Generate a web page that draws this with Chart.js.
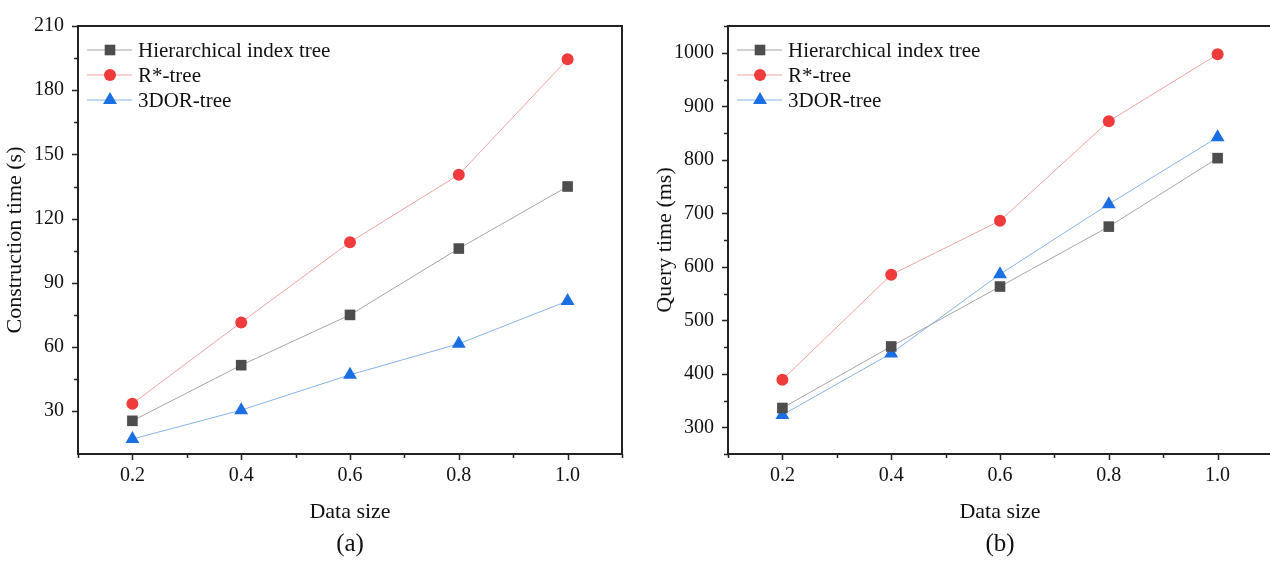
<!DOCTYPE html>
<html>
<head>
<meta charset="utf-8">
<script src="https://cdn.jsdelivr.net/npm/chart.js@4.4.1/dist/chart.umd.min.js"></script>
<style>
  html, body { margin: 0; padding: 0; background: #fff; overflow: hidden; }
  #wrap { position: relative; width: 1270px; height: 561px; }
  canvas { position: absolute; top: 0; }
  .cap { position: absolute; font-family: 'Liberation Serif', 'Times New Roman', serif; font-size: 25px; color: #111; transform: translate(-50%, -50%); }
</style>
</head>
<body>
<div id="wrap">
  <canvas id="chartA" width="640" height="561" style="left:0"></canvas>
  <canvas id="chartB" width="640" height="561" style="left:650px"></canvas>
  <div class="cap" style="left:350px; top:543px">(a)</div>
  <div class="cap" style="left:1000px; top:543px">(b)</div>
</div>
<script>
// ---- data ----
const dataSizes = [0.2, 0.4, 0.6, 0.8, 1.0];
const seriesNames = ['Hierarchical index tree', 'R*-tree', '3DOR-tree'];

// (a) construction time in seconds
const buildHier = [25.5, 51.5, 75, 106, 135];
const buildRstar = [33.5, 71.5, 109, 140.5, 194.5];
const build3dor = [17, 30.5, 47, 61.5, 81.5];

// (b) query time in ms
const queryHier = [336, 451, 563, 675, 803];
const queryRstar = [389, 585, 686, 872, 997];
const query3dor = [323, 438, 586, 717, 842];

const FONT = "'Liberation Serif', 'Times New Roman', serif";
Chart.defaults.font.family = FONT;
Chart.defaults.color = '#111';

// marker / line look for each series
const looks = [
    { style: 'rect', radius: 7.5, fill: '#4d4d4d', line: '#a6a6a6' },
    { style: 'circle', radius: 6, fill: '#ef3b3b', line: '#f2a3a3' },
    { style: 'triangle', radius: 8, fill: '#1a6fe3', line: '#86b4ea' }
];

function toPoints(vals) {
    return vals.map((v, i) => ({ x: dataSizes[i], y: v }));
}

function drawMarker(ctx, look, x, y) {
    ctx.fillStyle = look.fill;
    ctx.beginPath();
    if (look.style === 'rect') {
        const s = look.radius * Math.SQRT1_2;
        ctx.rect(x - s, y - s, 2 * s, 2 * s);
    } else if (look.style === 'circle') {
        ctx.arc(x, y, look.radius, 0, Math.PI * 2);
    } else {
        const r = look.radius;
        ctx.moveTo(x, y - r);
        ctx.lineTo(x + r * Math.sin(2 * Math.PI / 3), y + r / 2);
        ctx.lineTo(x - r * Math.sin(2 * Math.PI / 3), y + r / 2);
        ctx.closePath();
    }
    ctx.fill();
}

// frame + outward ticks (short minor, longer major)
const frameTicks = {
    id: 'frameTicks',
    afterDraw(chart) {
        const { ctx, chartArea: a, scales: { x, y } } = chart;
        const yStep = chart.options.scales.y.ticks.stepSize;
        ctx.save();
        ctx.strokeStyle = '#222';
        ctx.lineWidth = 1.5;
        ctx.beginPath();
        x.ticks.forEach(t => {
            const px = Math.round(x.getPixelForValue(t.value)) + 0.5;
            const len = t.label !== '' ? 6 : 4;
            ctx.moveTo(px, a.bottom);
            ctx.lineTo(px, a.bottom + len);
        });
        y.ticks.forEach(t => {
            if (Math.abs(t.value / yStep - Math.round(t.value / yStep)) > 1e-6) return;
            const py = Math.round(y.getPixelForValue(t.value)) + 0.5;
            const len = t.label !== '' ? 6 : 4;
            ctx.moveTo(a.left, py);
            ctx.lineTo(a.left - len, py);
        });
        ctx.stroke();
        ctx.lineWidth = 2;
        ctx.strokeRect(a.left, a.top, a.right - a.left, a.bottom - a.top);
        ctx.restore();
    }
};

// legend stacked in the upper left corner of the plot
const cornerLegend = {
    id: 'cornerLegend',
    afterDraw(chart) {
        const { ctx, chartArea: a } = chart;
        ctx.save();
        ctx.font = '21px ' + FONT;
        ctx.textBaseline = 'middle';
        chart.data.datasets.forEach((ds, i) => {
            const yy = a.top + 24 + i * 25;
            const look = looks[i];
            ctx.strokeStyle = look.line;
            ctx.lineWidth = 1.2;
            ctx.beginPath();
            ctx.moveTo(a.left + 9, yy);
            ctx.lineTo(a.left + 54, yy);
            ctx.stroke();
            drawMarker(ctx, look, a.left + 32, yy);
            ctx.fillStyle = '#111';
            ctx.fillText(ds.label, a.left + 60, yy + 1);
        });
        ctx.restore();
    }
};

function makeChart(id, series, yTitle, yMin, yMax, yStep, yLabelStep) {
    const datasets = series.map((vals, i) => ({
        label: seriesNames[i],
        data: toPoints(vals),
        borderColor: looks[i].line,
        borderWidth: 1,
        pointStyle: looks[i].style,
        pointRadius: looks[i].radius,
        pointHoverRadius: looks[i].radius,
        pointBackgroundColor: looks[i].fill,
        pointBorderColor: looks[i].fill,
        pointBorderWidth: 0,
        tension: 0
    }));

    return new Chart(document.getElementById(id), {
        type: 'line',
        data: { datasets },
        plugins: [frameTicks, cornerLegend],
        options: {
            responsive: false,
            animation: false,
            layout: { padding: { top: 18, right: 18, left: 0, bottom: 0 } },
            plugins: { legend: { display: false }, tooltip: { enabled: false } },
            scales: {
                x: {
                    type: 'linear',
                    min: 0.1, max: 1.1,
                    grid: { display: false, drawTicks: false },
                    border: { display: false },
                    ticks: {
                        stepSize: 0.1,
                        autoSkip: false,
                        maxRotation: 0,
                        padding: 10,
                        font: { size: 20 },
                        callback: v => {
                            const k = Math.round(v * 10);
                            return (k % 2 === 0) ? (k / 10).toFixed(1) : '';
                        }
                    },
                    title: {
                        display: true, text: 'Data size',
                        font: { size: 22 },
                        padding: { top: 0, bottom: 36 }
                    },
                    afterFit: s => { s.height = 107; }
                },
                y: {
                    min: yMin, max: yMax,
                    grid: { display: false, drawTicks: false },
                    border: { display: false },
                    ticks: {
                        stepSize: yStep,
                        autoSkip: false,
                        padding: 14,
                        font: { size: 20 },
                        callback: v => (v % yLabelStep === 0 && v > yMin) ? String(v) : ''
                    },
                    title: {
                        display: true, text: yTitle,
                        font: { size: 22 },
                        padding: { top: 2, bottom: 0 }
                    },
                    afterFit: s => { s.width = 78; }
                }
            }
        }
    });
}

makeChart('chartA', [buildHier, buildRstar, build3dor], 'Construction time (s)', 10, 210, 15, 30);
makeChart('chartB', [queryHier, queryRstar, query3dor], 'Query time (ms)', 250, 1050, 50, 100);
</script>
</body>
</html>
